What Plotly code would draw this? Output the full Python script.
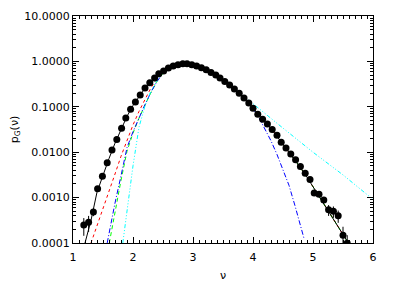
import plotly.graph_objects as go

# ---- measured data (points with error bars) ----
nu_data = [1.18, 1.26, 1.34, 1.41, 1.49, 1.57, 1.65, 1.73, 1.81, 1.88, 1.96, 2.04,
           2.12, 2.20, 2.28, 2.36, 2.43, 2.51, 2.59, 2.67, 2.75, 2.83, 2.90, 2.98,
           3.06, 3.14, 3.22, 3.30, 3.38, 3.45, 3.53, 3.61, 3.69, 3.77, 3.85, 3.93,
           4.00, 4.08, 4.16, 4.24, 4.32, 4.40, 4.47, 4.55, 4.63, 4.71, 4.79, 4.87,
           4.95, 5.02, 5.10, 5.18, 5.26, 5.34, 5.42, 5.50, 5.57]
p_data = [2.49e-4, 2.85e-4, 4.80e-4, 1.56e-3, 2.97e-3, 5.82e-3, 0.0112, 0.0190, 0.0337,
          0.0568, 0.0881, 0.128, 0.182, 0.259, 0.340, 0.430, 0.536, 0.612, 0.713, 0.789,
          0.845, 0.889, 0.889, 0.845, 0.789, 0.726, 0.656, 0.573, 0.500, 0.430, 0.363,
          0.301, 0.246, 0.198, 0.156, 0.121, 0.0927, 0.0684, 0.0531, 0.0419, 0.0316,
          0.0237, 0.0166, 0.01245, 9.18e-3, 6.78e-3, 4.85e-3, 3.45e-3, 2.51e-3, 1.26e-3,
          1.19e-3, 8.81e-4, 5.40e-4, 4.98e-4, 3.98e-4, 1.48e-4, 9.85e-5]
p_err = [1.05e-4, 1.10e-4, 0.9e-4, 1.5e-4, 0, 0, 0, 0, 0, 0, 0, 0,
         0, 0, 0, 0, 0, 0, 0, 0, 0, 0, 0, 0, 0, 0, 0, 0, 0, 0, 0, 0, 0, 0, 0, 0,
         0, 0, 0, 0, 0, 0, 0, 0, 0, 0, 0, 0,
         2.0e-4, 1.7e-4, 1.6e-4, 1.4e-4, 1.45e-4, 1.4e-4, 1.2e-4, 0.8e-4, 0.5e-4]

# ---- model curves ----
nu_fit = [1.2, 1.3, 1.4, 1.5, 1.6, 1.7, 1.8, 1.9, 2.0, 2.1, 2.2, 2.3, 2.4, 2.5, 2.6,
          2.7, 2.8, 2.9, 3.0, 3.1, 3.2, 3.3, 3.4, 3.5, 3.6, 3.7, 3.8, 3.9, 4.0, 4.1,
          4.2, 4.3, 4.4, 4.5, 4.6, 4.7, 4.8, 4.9, 5.0, 5.1, 5.2, 5.3, 5.4, 5.5, 5.6]
p_black = [1.0e-4, 3.16e-4, 1.32e-3, 3.16e-3, 7.24e-3, 0.0158, 0.0324, 0.0617, 0.107,
           0.170, 0.257, 0.363, 0.490, 0.603, 0.724, 0.813, 0.881, 0.902, 0.841, 0.759,
           0.676, 0.575, 0.479, 0.389, 0.309, 0.240, 0.182, 0.132, 0.0933, 0.0646,
           0.0468, 0.0331, 0.0224, 0.0151, 0.0102, 6.76e-3, 4.37e-3, 2.82e-3, 1.74e-3,
           1.07e-3, 6.61e-4, 4.07e-4, 2.51e-4, 1.55e-4, 9.5e-5]

nu_red = [1.30, 1.4, 1.5, 1.6, 1.7, 1.8, 1.9, 2.0, 2.1, 2.2, 2.3, 2.4, 2.5, 2.6,
          2.7, 2.8, 2.9, 3.0, 3.1, 3.2, 3.3, 3.4, 3.5, 3.6, 3.7, 3.8, 3.9, 4.0, 4.1,
          4.2, 4.3, 4.4, 4.5, 4.6, 4.7, 4.8, 4.9, 5.0, 5.1, 5.2, 5.3, 5.4, 5.5, 5.6]
p_red = [1.0e-4, 2.34e-4, 5.62e-4, 1.32e-3, 3.31e-3, 8.13e-3, 0.0186, 0.0398, 0.0794,
         0.151, 0.263, 0.417, 0.589, 0.724, 0.813, 0.881, 0.902, 0.841, 0.759,
         0.676, 0.575, 0.479, 0.389, 0.309, 0.240, 0.182, 0.132, 0.0933, 0.0646,
         0.0468, 0.0331, 0.0224, 0.0151, 0.0102, 6.76e-3, 4.37e-3, 2.82e-3, 1.74e-3,
         1.07e-3, 6.61e-4, 4.07e-4, 2.51e-4, 1.55e-4, 9.5e-5]

nu_green = [1.605, 1.7, 1.8, 1.9, 2.0, 2.1, 2.2, 2.3, 2.4, 2.5, 2.6,
            2.7, 2.8, 2.9, 3.0, 3.1, 3.2, 3.3, 3.4, 3.5, 3.6, 3.7, 3.8, 3.9, 4.0, 4.1,
            4.2, 4.3, 4.4, 4.5, 4.6, 4.7, 4.8, 4.9, 5.0, 5.1, 5.2, 5.3, 5.4, 5.5, 5.6]
p_green = [1.0e-4, 5.01e-4, 2.40e-3, 0.0105, 0.0263, 0.0562, 0.112, 0.209, 0.363,
           0.550, 0.708, 0.813, 0.891, 0.912, 0.851, 0.762, 0.676, 0.575, 0.479,
           0.389, 0.309, 0.240, 0.182, 0.132, 0.0933, 0.0646,
           0.0468, 0.0331, 0.0224, 0.0151, 0.0102, 6.76e-3, 4.37e-3, 2.82e-3, 1.74e-3,
           1.07e-3, 6.61e-4, 4.07e-4, 2.51e-4, 1.55e-4, 9.5e-5]

nu_blue = [1.57, 1.6, 1.7, 1.8, 1.9, 2.0, 2.1, 2.2, 2.3, 2.4, 2.5, 2.6,
           2.7, 2.8, 2.9, 3.0, 3.1, 3.2, 3.3, 3.4, 3.5, 3.6, 3.7, 3.8, 3.9, 4.0, 4.1,
           4.2, 4.3, 4.4, 4.5, 4.6, 4.7, 4.8, 4.85]
p_blue = [1.0e-4, 1.66e-4, 7.59e-4, 3.02e-3, 0.0126, 0.0282, 0.0575, 0.112, 0.209,
          0.363, 0.550, 0.708, 0.813, 0.891, 0.912, 0.851, 0.762, 0.676, 0.575, 0.479,
          0.389, 0.309, 0.240, 0.182, 0.132, 0.0912, 0.0575,
          0.0331, 0.0178, 8.91e-3, 4.17e-3, 1.86e-3, 6.61e-4, 2.19e-4, 1.26e-4]

nu_cyan = [1.83, 1.9, 2.0, 2.1, 2.2, 2.3, 2.4, 2.5, 2.6,
           2.7, 2.8, 2.9, 3.0, 3.1, 3.2, 3.3, 3.4, 3.5, 3.6, 3.7, 3.8, 3.9, 4.0,
           4.5, 5.0, 5.5, 6.0]
p_cyan = [1.0e-4, 5.62e-4, 5.01e-3, 0.0355, 0.105, 0.224, 0.389, 0.562, 0.724,
          0.822, 0.891, 0.912, 0.851, 0.762, 0.676, 0.575, 0.479, 0.389, 0.309,
          0.251, 0.191, 0.151, 0.117, 0.0339, 0.0100, 3.16e-3, 9.12e-4]

fig = go.Figure()

fig.add_trace(go.Scatter(x=nu_red, y=p_red, mode="lines",
                         line=dict(color="#ff0000", width=1, dash="dot")))
fig.add_trace(go.Scatter(x=nu_green, y=p_green, mode="lines",
                         line=dict(color="#00ff00", width=1, dash="4px,3px")))
fig.add_trace(go.Scatter(x=nu_blue, y=p_blue, mode="lines",
                         line=dict(color="#0000ff", width=1, dash="5px,2px,1px,2px")))
fig.add_trace(go.Scatter(x=nu_cyan, y=p_cyan, mode="lines",
                         line=dict(color="#00ffff", width=1,
                                   dash="4px,2px,1px,2px,1px,2px,1px,2px")))
fig.add_trace(go.Scatter(x=nu_fit, y=p_black, mode="lines",
                         line=dict(color="black", width=1)))
fig.add_trace(go.Scatter(x=nu_data, y=p_data, mode="markers",
                         marker=dict(color="black", size=7),
                         error_y=dict(type="data", array=p_err, color="black",
                                      thickness=1, width=0)))

font = dict(family="DejaVu Sans", size=11, color="black")
minor_log = [m * 10.0 ** e for e in range(-4, 1) for m in range(2, 10)]

fig.update_layout(
    width=407, height=289,
    margin=dict(l=65, r=42, t=8, b=54),
    paper_bgcolor="white", plot_bgcolor="white",
    showlegend=False,
    font=font,
    xaxis=dict(range=[1, 6], dtick=1, tick0=1, showgrid=False, zeroline=False,
               automargin=False, ticklabelstandoff=4,
               showline=True, linecolor="black", linewidth=1, mirror="ticks",
               ticks="inside", ticklen=6, tickcolor="black",
               minor=dict(dtick=0.1, ticks="inside", ticklen=3, tickcolor="black",
                          showgrid=False),
               title=dict(text="ν", font=font, standoff=8),
               tickfont=font),
    yaxis=dict(type="log", range=[-4, 1], dtick=1, tickformat=".4f",
               showgrid=False, zeroline=False, automargin=False,
               showline=True, linecolor="black", linewidth=1, mirror="ticks",
               ticks="inside", ticklen=6, tickcolor="black",
               minor=dict(tickvals=minor_log, ticks="inside", ticklen=3,
                          tickcolor="black", showgrid=False),
               title=dict(text="p<sub>G</sub>(ν)", font=font, standoff=9),
               tickfont=font),
)

fig.write_html("out.html")
